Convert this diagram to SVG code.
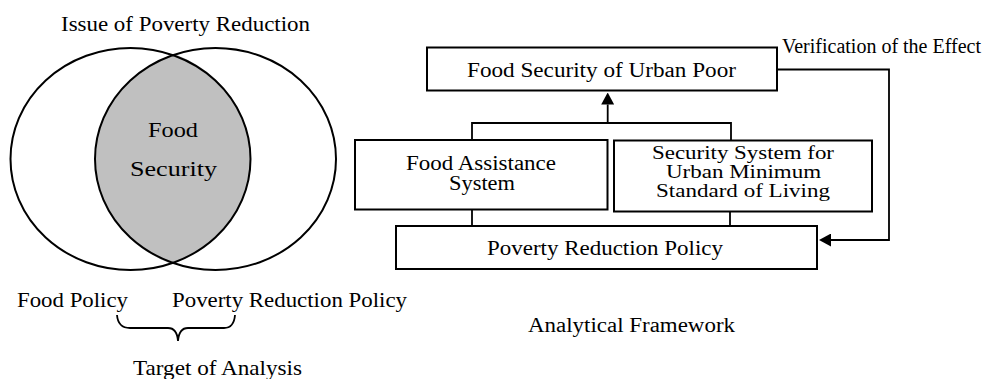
<svg xmlns="http://www.w3.org/2000/svg" width="985" height="379" viewBox="0 0 985 379" font-family="'Liberation Serif', 'DejaVu Serif', serif">
<defs>
<style>
text{font-family:'Liberation Serif','DejaVu Serif',serif;fill:#000}
.t21{font-size:21px}
.t20{font-size:20px}
.t19{font-size:19px}
.box{fill:#fff;stroke:#000;stroke-width:2}
.ln{fill:none;stroke:#000;stroke-width:1.8}
.ell{fill:none;stroke:#000;stroke-width:2}
</style>
<marker id="ah" viewBox="0 0 12 13" refX="0" refY="6.5" markerWidth="12" markerHeight="13" markerUnits="userSpaceOnUse" orient="auto">
<path d="M0,0 L12,6.5 L0,13 Z" fill="#000"/>
</marker>
</defs>
<rect width="985" height="379" fill="#fff"/>
<g id="venn">
<path d="M173,55.2 A120.5,111 0 0,0 173,262.8 A120,111 0 0,0 173,55.2 Z" fill="#c0c0c0" transform="rotate(2.5 173 159)"/>
<path d="M173,55.2 A120.5,111 0 0,0 173,262.8 A120,111 0 0,0 173,55.2 Z" fill="#c0c0c0"/>
<ellipse class="ell" cx="130.5" cy="159" rx="120" ry="111"/>
<ellipse class="ell" cx="215.5" cy="159" rx="120.5" ry="111"/>
<text class="t21" x="61" y="31" textLength="249" lengthAdjust="spacingAndGlyphs">Issue of Poverty Reduction</text>
<text class="t21" x="148" y="137" textLength="50" lengthAdjust="spacingAndGlyphs">Food</text>
<text class="t21" x="130" y="176" textLength="87" lengthAdjust="spacingAndGlyphs">Security</text>
<text class="t21" x="17" y="306.5" textLength="111" lengthAdjust="spacingAndGlyphs">Food Policy</text>
<text class="t21" x="172" y="306.5" textLength="235" lengthAdjust="spacingAndGlyphs">Poverty Reduction Policy</text>
<path class="ln" stroke-width="1.5" d="M117,315 Q118,328 130,328 L168,328 Q177,328 178,341 Q179,328 188,328 L224,328 Q234,328 235,315"/>
<text class="t21" x="133" y="375" textLength="169" lengthAdjust="spacingAndGlyphs">Target of Analysis</text>
</g>
<g id="n-food-security">
<rect class="box" x="427" y="47.5" width="350" height="43"/>
<text class="t20" x="467" y="77" textLength="269" lengthAdjust="spacingAndGlyphs">Food Security of Urban Poor</text>
</g>
<g id="n-food-assistance">
<rect class="box" x="355" y="140" width="252.5" height="69.5"/>
<text class="t20" x="406" y="170" textLength="150" lengthAdjust="spacingAndGlyphs">Food Assistance</text>
<text class="t20" x="449" y="190" textLength="66" lengthAdjust="spacingAndGlyphs">System</text>
</g>
<g id="n-security-system">
<rect class="box" x="614" y="140.5" width="258" height="71"/>
<text class="t19" x="652" y="159" textLength="182" lengthAdjust="spacingAndGlyphs">Security System for</text>
<text class="t19" x="666" y="178" textLength="155" lengthAdjust="spacingAndGlyphs">Urban Minimum</text>
<text class="t19" x="656" y="197" textLength="174" lengthAdjust="spacingAndGlyphs">Standard of Living</text>
</g>
<g id="n-poverty-policy">
<rect class="box" x="396" y="226" width="421" height="43"/>
<text class="t20" x="487" y="255" textLength="236" lengthAdjust="spacingAndGlyphs">Poverty Reduction Policy</text>
</g>
<g id="connectors">
<path class="ln" d="M472,140 V123 H731 V140.5"/>
<path class="ln" stroke-width="2.6" d="M607.7,123 V104.5" marker-end="url(#ah)"/>
<path class="ln" d="M472,209.5 V226"/>
<path class="ln" d="M730,211.5 V226"/>
<path class="ln" d="M777,69.5 H889 V240 H831" marker-end="url(#ah)"/>
<text class="t20" x="782" y="53">Verification of the Effect</text>
</g>
<g id="caption">
<text class="t20" x="528" y="332" textLength="207" lengthAdjust="spacingAndGlyphs">Analytical Framework</text>
</g>
</svg>
